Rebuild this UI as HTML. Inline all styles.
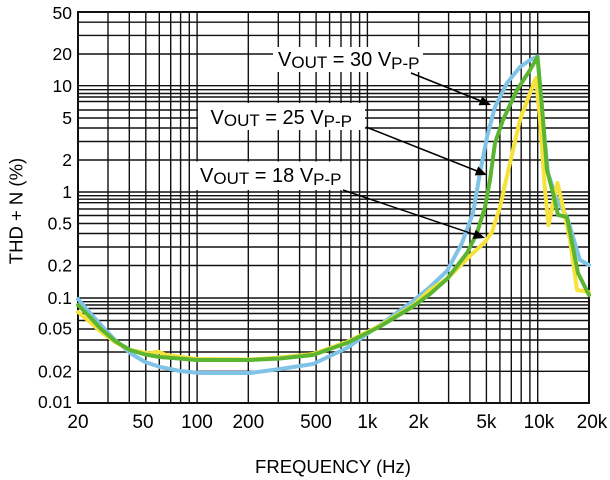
<!DOCTYPE html>
<html>
<head>
<meta charset="utf-8">
<style>
  html,body{margin:0;padding:0;background:#fff;}
  svg{display:block;}
  text{font-family:"Liberation Sans",Arial,sans-serif;fill:#000;}
</style>
</head>
<body>
<svg width="610" height="480" viewBox="0 0 610 480" xmlns="http://www.w3.org/2000/svg">
  <rect x="0" y="0" width="610" height="480" fill="#fff"/>
  <!-- vertical gridlines -->
  <g stroke="#111" stroke-width="1.4">
    <line x1="108" y1="12" x2="108" y2="403"/>
    <line x1="129.3" y1="12" x2="129.3" y2="403"/>
    <line x1="145.8" y1="12" x2="145.8" y2="403"/>
    <line x1="159.3" y1="12" x2="159.3" y2="403"/>
    <line x1="170.7" y1="12" x2="170.7" y2="403"/>
    <line x1="180.6" y1="12" x2="180.6" y2="403"/>
    <line x1="189.3" y1="12" x2="189.3" y2="403"/>
    <line x1="197.1" y1="12" x2="197.1" y2="403"/>
    <line x1="248.3" y1="12" x2="248.3" y2="403"/>
    <line x1="278.3" y1="12" x2="278.3" y2="403"/>
    <line x1="299.6" y1="12" x2="299.6" y2="403"/>
    <line x1="316.1" y1="12" x2="316.1" y2="403"/>
    <line x1="329.6" y1="12" x2="329.6" y2="403"/>
    <line x1="341" y1="12" x2="341" y2="403"/>
    <line x1="350.9" y1="12" x2="350.9" y2="403"/>
    <line x1="359.6" y1="12" x2="359.6" y2="403"/>
    <line x1="367.4" y1="12" x2="367.4" y2="403"/>
    <line x1="418.6" y1="12" x2="418.6" y2="403"/>
    <line x1="448.6" y1="12" x2="448.6" y2="403"/>
    <line x1="469.9" y1="12" x2="469.9" y2="403"/>
    <line x1="486.4" y1="12" x2="486.4" y2="403"/>
    <line x1="499.9" y1="12" x2="499.9" y2="403"/>
    <line x1="511.3" y1="12" x2="511.3" y2="403"/>
    <line x1="521.2" y1="12" x2="521.2" y2="403"/>
    <line x1="529.9" y1="12" x2="529.9" y2="403"/>
    <line x1="537.7" y1="12" x2="537.7" y2="403"/>
  </g>
  <!-- horizontal gridlines -->
  <g stroke="#111" stroke-width="1.4">
    <line x1="78" y1="22.2" x2="589" y2="22.2"/>
    <line x1="78" y1="35.4" x2="589" y2="35.4"/>
    <line x1="78" y1="54" x2="589" y2="54"/>
    <line x1="78" y1="85.7" x2="589" y2="85.7"/>
    <line x1="78" y1="89.7" x2="589" y2="89.7"/>
    <line x1="78" y1="93.5" x2="589" y2="93.5"/>
    <line x1="78" y1="97" x2="589" y2="97"/>
    <line x1="78" y1="101.5" x2="589" y2="101.5"/>
    <line x1="78" y1="110" x2="589" y2="110"/>
    <line x1="78" y1="118" x2="589" y2="118"/>
    <line x1="78" y1="128" x2="589" y2="128"/>
    <line x1="78" y1="141.5" x2="589" y2="141.5"/>
    <line x1="78" y1="160" x2="589" y2="160"/>
    <line x1="78" y1="192" x2="589" y2="192"/>
    <line x1="78" y1="195.7" x2="589" y2="195.7"/>
    <line x1="78" y1="199.2" x2="589" y2="199.2"/>
    <line x1="78" y1="202.7" x2="589" y2="202.7"/>
    <line x1="78" y1="209" x2="589" y2="209"/>
    <line x1="78" y1="215.5" x2="589" y2="215.5"/>
    <line x1="78" y1="223.5" x2="589" y2="223.5"/>
    <line x1="78" y1="233.5" x2="589" y2="233.5"/>
    <line x1="78" y1="247" x2="589" y2="247"/>
    <line x1="78" y1="265.5" x2="589" y2="265.5"/>
    <line x1="78" y1="298" x2="589" y2="298"/>
    <line x1="78" y1="301.7" x2="589" y2="301.7"/>
    <line x1="78" y1="305" x2="589" y2="305"/>
    <line x1="78" y1="308.5" x2="589" y2="308.5"/>
    <line x1="78" y1="313.5" x2="589" y2="313.5"/>
    <line x1="78" y1="320.5" x2="589" y2="320.5"/>
    <line x1="78" y1="329" x2="589" y2="329"/>
    <line x1="78" y1="340" x2="589" y2="340"/>
    <line x1="78" y1="352" x2="589" y2="352"/>
    <line x1="78" y1="371.3" x2="589" y2="371.3"/>
  </g>
  <!-- frame -->
  <rect x="78" y="12" width="511" height="391" fill="none" stroke="#111" stroke-width="2"/>

  <!-- label boxes -->
  <rect x="273" y="47" width="150" height="25" fill="#fff"/>
  <rect x="198" y="103" width="167" height="27" fill="#fff"/>
  <rect x="193" y="161.5" width="154" height="28.5" fill="#fff"/>

  <!-- curves -->
  <g fill="none" stroke-width="4" stroke-linejoin="round" stroke-linecap="round">
    <polyline stroke="#7fc3e6" points="78,299 90,313 100,324 115,340 130,353 145,362 160,367 180,371 200,373 250,373 280,369 313,364 347,348 380,325 413,301 430,287 447,271 462,243 473,213 480,173 487,137 495,107 507,83 520,67 530,60 537.5,56.5 543,123 548,173 557,200 567,217 580,260 589,265"/>
    <polyline stroke="#f5e23a" points="78,312 90,322 100,331 115,342 130,350 150,353.5 158,351.5 166,355 197,359 250,359.5 280,357.5 313,354 347,342 380,325.5 413,305.5 430,290 448,278 470,256 485,242 492,232 500,207 510,163 520,120 530,93 536,78 540,120 545,190 548.5,225 553,203 557.5,183 563,207 570,240 577,290 589,292"/>
    <polyline stroke="#5cb531" points="78,305 90,317 100,328 115,341 130,350 145,354.5 160,357 197,360 250,360 280,358.5 313,355 347,343 380,326.5 413,306.5 430,294 447,279 467,253 477,233 485,207 490,180 495,143 503,120 517,90 530,70 537.5,57 542,107 547,170 553,193 558,215 567,217 578,273 589,295"/>
  </g>

  <!-- arrows -->
  <g stroke="#000" stroke-width="1.5" fill="#000">
    <line x1="411" y1="73" x2="481" y2="101"/>
    <polygon points="491,105 478.5,105.2 482.3,96.4" stroke="none"/>
    <line x1="366" y1="127" x2="477" y2="171"/>
    <polygon points="487,175 474.7,175.4 478.2,166.5" stroke="none"/>
    <line x1="343" y1="190" x2="475" y2="234.7"/>
    <polygon points="485,238 472.7,238.9 475.7,229.8" stroke="none"/>
  </g>

  <!-- annotation labels -->
  <text x="278" y="66" font-size="20">V<tspan font-size="17" dy="2">OUT</tspan><tspan font-size="20" dy="-2"> = 30 V</tspan><tspan font-size="17" dy="3">P-P</tspan></text>
  <text x="210.5" y="124" font-size="20">V<tspan font-size="17" dy="2">OUT</tspan><tspan font-size="20" dy="-2"> = 25 V</tspan><tspan font-size="17" dy="3">P-P</tspan></text>
  <text x="200" y="182" font-size="20">V<tspan font-size="17" dy="2">OUT</tspan><tspan font-size="20" dy="-2"> = 18 V</tspan><tspan font-size="17" dy="3">P-P</tspan></text>

  <!-- y tick labels -->
  <g font-size="17.5" text-anchor="end">
    <text x="72" y="19">50</text>
    <text x="72" y="60">20</text>
    <text x="72" y="92">10</text>
    <text x="72" y="124">5</text>
    <text x="72" y="166">2</text>
    <text x="72" y="198">1</text>
    <text x="72" y="229.5">0.5</text>
    <text x="72" y="271.5">0.2</text>
    <text x="72" y="304">0.1</text>
    <text x="72" y="334.5">0.05</text>
    <text x="72" y="377.3">0.02</text>
    <text x="72" y="408">0.01</text>
  </g>
  <!-- x tick labels -->
  <g font-size="19" text-anchor="middle">
    <text x="78" y="428">20</text>
    <text x="143" y="428">50</text>
    <text x="197" y="428">100</text>
    <text x="248.3" y="428">200</text>
    <text x="316" y="428">500</text>
    <text x="367.4" y="428">1k</text>
    <text x="418.6" y="428">2k</text>
    <text x="486.4" y="428">5k</text>
    <text x="539" y="428">10k</text>
    <text x="592" y="428">20k</text>
  </g>
  <!-- axis titles -->
  <text x="333" y="473" font-size="18.5" text-anchor="middle">FREQUENCY (Hz)</text>
  <text transform="translate(22.5,211) rotate(-90)" font-size="18.5" text-anchor="middle">THD + N (%)</text>
</svg>
</body>
</html>
